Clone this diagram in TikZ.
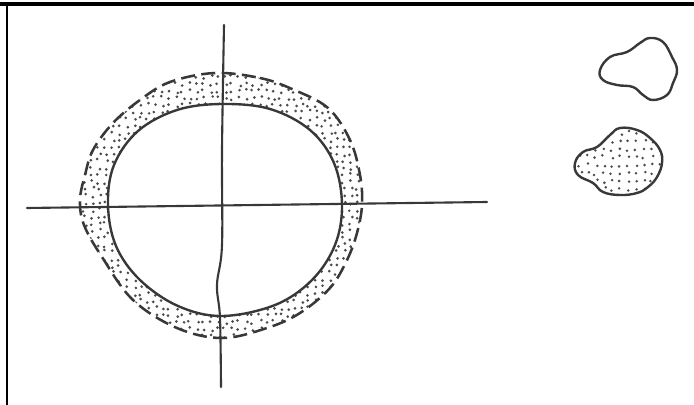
\documentclass[tikz,border=0pt]{standalone}
\usetikzlibrary{calc}
\begin{document}
\begin{tikzpicture}[x=0.025cm,y=-0.025cm]
  \tikzstyle{rim}=[line width=1.7pt,black!78,line join=round]
  \tikzstyle{axis}=[line width=1.5pt,black!78,line cap=round]
  \tikzstyle{fringe}=[line width=1.8pt,black!78,dash pattern=on 10pt off 4.5pt]
  \tikzstyle{grain}=[black!70]
  \def\cityline{plot[smooth cycle,tension=0.6] coordinates {(222,104) (270,109) (310,130) (334,163) (342,205) (335,245) (312,280) (275,305) (222,316) (178,306) (140,280) (116,246) (108,205) (114,165) (138,131) (177,110)}}
  \def\fringeline{plot[smooth cycle,tension=0.6] coordinates {(215,73) (260,78) (292,89) (328,108) (350,140) (360,175) (362,205) (357,233) (347,260) (330,288) (300,313) (267,328) (222,338) (177,328) (133,300) (102,257) (84,225) (80,200) (85,175) (93,150) (113,123) (140,100) (170,82)}}
  \def\blobA{plot[smooth cycle,tension=0.7] coordinates {(600,70) (610,57) (627,52) (640,43) (650,38) (663,42) (672,57) (677,70) (673,83) (667,95) (653,100) (643,95) (633,87) (617,85) (603,80)}}
  \def\blobB{plot[smooth cycle,tension=0.7] coordinates {(575,163) (583,152) (597,147) (610,135) (620,128) (637,130) (650,138) (660,150) (662,163) (657,177) (648,187) (637,193) (620,195) (603,192) (593,183) (578,175)}}
  \useasboundingbox (0,0) rectangle (694,405);
  % page frame
  \draw[line width=2.8pt] (0,4) -- (694,4);
  \draw[line width=1.6pt] (7,4) -- (7,405);
  \pgfmathsetseed{11}
  % dotted fringe band
  \begin{scope}[even odd rule]
    \clip \fringeline \cityline;
    \foreach \gx in {78,85,...,366}{
      \foreach \gy in {70,77,...,344}{
        \pgfmathsetmacro\px{\gx+4*rnd-2}
        \pgfmathsetmacro\py{\gy+4*rnd-2}
        \fill[grain] (\px,\py) circle (1.05pt);
      }
    }
  \end{scope}
  \draw[fringe] \fringeline;
  \draw[rim] \cityline;
  % cross axes
  \draw[axis] (27,208) -- (487,202);
  \draw[axis] plot[smooth,tension=0.6] coordinates {(224,25) (222,150) (222,245) (217,285) (220,318) (221,387)};
  % outlying settlements
  \draw[rim] \blobA;
  \begin{scope}
    \clip \blobB;
    \foreach \gx in {572,580,...,666}{
      \foreach \gy in {125,133,...,198}{
        \pgfmathsetmacro\px{\gx+4*rnd-2}
        \pgfmathsetmacro\py{\gy+4*rnd-2}
        \fill[grain] (\px,\py) circle (1pt);
      }
    }
  \end{scope}
  \draw[rim] \blobB;
\end{tikzpicture}
\end{document}
